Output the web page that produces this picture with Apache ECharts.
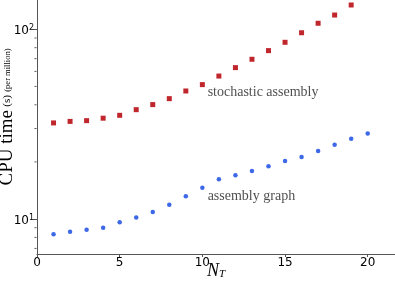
<!DOCTYPE html>
<html>
<head>
<meta charset="utf-8">
<script src="https://cdn.jsdelivr.net/npm/echarts@6/dist/echarts.min.js"></script>
<style>html,body{margin:0;padding:0;background:#fff}#c{width:395px;height:284px}</style>
</head>
<body>
<div id="c"></div>
<script>
var nT = [1,2,3,4,5,6,7,8,9,10,11,12,13,14,15,16,17,18,19,20];
var stochastic = [32.1,32.7,33.0,34.0,35.2,37.7,40.1,43.1,47.3,51.1,56.7,62.8,69.5,77.2,85.4,95.9,107.6,118.9,134.3];
var graph = [8.30,8.57,8.78,9.00,9.61,10.2,10.9,11.9,13.2,14.6,16.2,17.0,17.9,19.0,20.2,21.2,22.8,24.6,26.5,28.2];
var xTicks = [0,5,10,15,20];
var yMajor = [10,100];
var yMinor = [7,8,9,20,30,40,50,60,70,80,90];
var annotations = [
  {x: 10.32, y: 46.7, text: 'stochastic assembly'},
  {x: 10.32, y: 13.1, text: 'assembly graph'}
];

function pairs(xs, ys){ return ys.map(function(v,i){ return [xs[i], v]; }); }

var chart = echarts.init(document.getElementById('c'), null, {renderer:'canvas'});
var axisColor = '#555';
chart.setOption({
  animation: false,
  grid: {left: 37, right: 0, top: 0, bottom: 30, containLabel: false, outerBoundsMode: 'none'},
  xAxis: {
    type: 'value', min: 0, max: 21.65, interval: 5,
    axisLine: {show: true, lineStyle: {color: axisColor, width: 1}},
    axisTick: {show: true, length: 3, lineStyle: {color: axisColor}},
    splitLine: {show: false},
    axisLabel: {color: '#000', fontFamily: 'DejaVu Sans', fontSize: 12, margin: 3, showMaxLabel: false,
      formatter: function(v){ return xTicks.indexOf(v) >= 0 ? String(v) : ''; }},
    name: '{n|N}{t|T}',
    nameLocation: 'middle', nameGap: 8, nameMoveOverlap: false,
    nameTextStyle: {rich: {
      n: {fontFamily: 'Liberation Serif', fontStyle: 'italic', fontSize: 18, color: '#000'},
      t: {fontFamily: 'Liberation Serif', fontStyle: 'italic', fontSize: 11, color: '#000', padding: [6,0,0,0]}
    }}
  },
  yAxis: {
    type: 'log', logBase: 10, min: 6.54, max: 142.7,
    axisLine: {show: true, lineStyle: {color: axisColor, width: 1}},
    axisTick: {show: true, length: 4, lineStyle: {color: axisColor}},
    splitLine: {show: false},
    axisLabel: {color: '#000', fontFamily: 'DejaVu Sans', fontSize: 12, margin: 3, padding: [4,0,0,0],
      showMinLabel: false, showMaxLabel: false,
      formatter: function(v){
        var i = yMajor.indexOf(Math.round(v));
        if (i < 0 || Math.abs(v - yMajor[i]) > 1e-6) return '';
        return '{b|10}{s|' + Math.round(Math.log10(v)) + '}';
      },
      rich: {b: {fontFamily: 'DejaVu Sans', fontSize: 12, color: '#000'},
             s: {fontFamily: 'DejaVu Sans', fontSize: 8, color: '#000', padding: [0,0,7,0]}}
    },
    name: '{a|CPU time} {b|(s)} {c|(per million)}',
    nameLocation: 'middle', nameRotate: 90, nameGap: 20, nameMoveOverlap: false,
    nameTextStyle: {padding: [0,0,0,20], rich: {
      a: {fontFamily: 'Liberation Serif', fontSize: 19, color: '#000'},
      b: {fontFamily: 'Liberation Serif', fontSize: 11, color: '#000'},
      c: {fontFamily: 'Liberation Serif', fontSize: 8.5, color: '#000'}
    }}
  },
  series: [
    {type: 'scatter', data: pairs(nT, stochastic), symbol: 'rect', symbolSize: 5,
     itemStyle: {color: '#c0272d', opacity: 1}},
    {type: 'scatter', data: pairs(nT, graph), symbol: 'circle', symbolSize: 4.5,
     itemStyle: {color: '#3d68e8', opacity: 1}},
    {type: 'scatter', data: yMinor.map(function(v){ return [0, v]; }), symbol: 'rect', symbolSize: [2, 1],
     symbolOffset: [-1.5, 0], clip: false, silent: true, itemStyle: {color: axisColor, opacity: 1}},
    {type: 'scatter', data: annotations.map(function(a){ return [a.x, a.y, a.text]; }), symbolSize: 0,
     silent: true,
     label: {show: true, position: 'right', distance: 0,
       formatter: function(p){ return p.data[2]; },
       fontFamily: 'Liberation Serif', fontSize: 14, color: '#222'}}
  ]
});
</script>
</body>
</html>
